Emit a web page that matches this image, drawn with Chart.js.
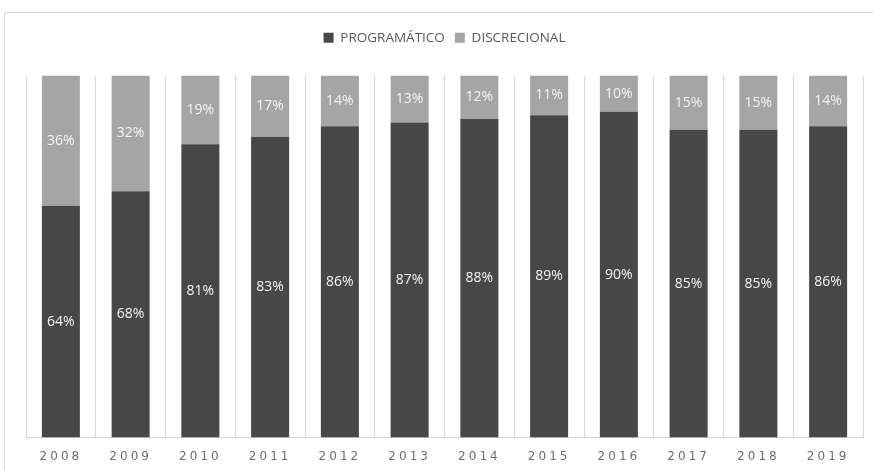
<!DOCTYPE html>
<html>
<head>
<meta charset="utf-8">
<script src="https://cdn.jsdelivr.net/npm/chart.js@4"></script>
<style>
  html, body { margin: 0; padding: 0; background: #fff; }
  #wrap { position: relative; width: 873px; height: 470px; overflow: hidden; }
  #frame { position: absolute; left: 4px; top: 12px; width: 900px; height: 500px;
           border-left: 1px solid #d9d9d9; border-top: 1px solid #d9d9d9; }
  canvas { position: absolute; left: 0; top: 0; }
</style>
</head>
<body>
<div id="wrap">
  <div id="frame"></div>
  <canvas id="myChart" width="873" height="476"></canvas>
</div>
<script>
const years = ['2008', '2009', '2010', '2011', '2012', '2013', '2014', '2015', '2016', '2017', '2018', '2019'];
const programatico = [64, 68, 81, 83, 86, 87, 88, 89, 90, 85, 85, 86];
const discrecional = [36, 32, 19, 17, 14, 13, 12, 11, 10, 15, 15, 14];

document.addEventListener('DOMContentLoaded', function() {
  const ctx = document.getElementById('myChart');

  // white percentage labels in the middle of each segment
  const segmentLabels = {
    id: 'segmentLabels',
    afterDatasetsDraw(chart) {
      const c = chart.ctx;
      c.save();
      c.font = '14px "Open Sans"';
      c.fillStyle = '#f4f4f4';
      c.textAlign = 'center';
      c.textBaseline = 'middle';
      chart.data.datasets.forEach((ds, i) => {
        chart.getDatasetMeta(i).data.forEach((bar, j) => {
          c.fillText(ds.data[j] + '%', bar.x, (bar.y + bar.base) / 2);
        });
      });
      c.restore();
    }
  };

  // extra room under the legend, and spaced-out year labels
  const tweaks = {
    id: 'tweaks',
    beforeInit(chart) {
      const fit = chart.legend.fit;
      chart.legend.fit = function() {
        fit.call(this);
        this.height += 21;
      };
    },
    afterLayout(chart) {
      const x = chart.scales.x;
      const base = Object.getPrototypeOf(x).drawLabels;
      x.drawLabels = function(area) {
        this.ctx.save();
        this.ctx.letterSpacing = '3px';
        base.call(this, area);
        this.ctx.restore();
      };
    }
  };

  new Chart(ctx, {
    type: 'bar',
    data: {
      labels: years,
      datasets: [{
        label: 'PROGRAMÁTICO',
        data: programatico,
        backgroundColor: '#474747',
        borderWidth: 0
      },
      {
        label: 'DISCRECIONAL',
        data: discrecional,
        backgroundColor: '#a5a5a5',
        borderWidth: 0
      }]
    },
    options: {
      responsive: false,
      animation: false,
      categoryPercentage: 1,
      barPercentage: 0.545,
      layout: { padding: { top: 21, left: 26, right: 10, bottom: 0 } },
      plugins: {
        tooltip: { enabled: false },
        legend: {
          labels: {
            boxWidth: 10,
            boxHeight: 10,
            padding: 10,
            color: '#595959',
            font: { family: 'Open Sans', size: 13.5 }
          }
        }
      },
      scales: {
        x: {
          stacked: true,
          grid: { color: '#d9d9d9', drawTicks: false },
          border: { color: '#d0d0d0' },
          ticks: {
            padding: 12,
            color: '#6e6e6e',
            font: { family: 'DejaVu Sans', size: 12 }
          }
        },
        y: {
          stacked: true,
          display: false,
          min: 0,
          max: 100
        }
      }
    },
    plugins: [segmentLabels, tweaks]
  });
});
</script>
</body>
</html>
